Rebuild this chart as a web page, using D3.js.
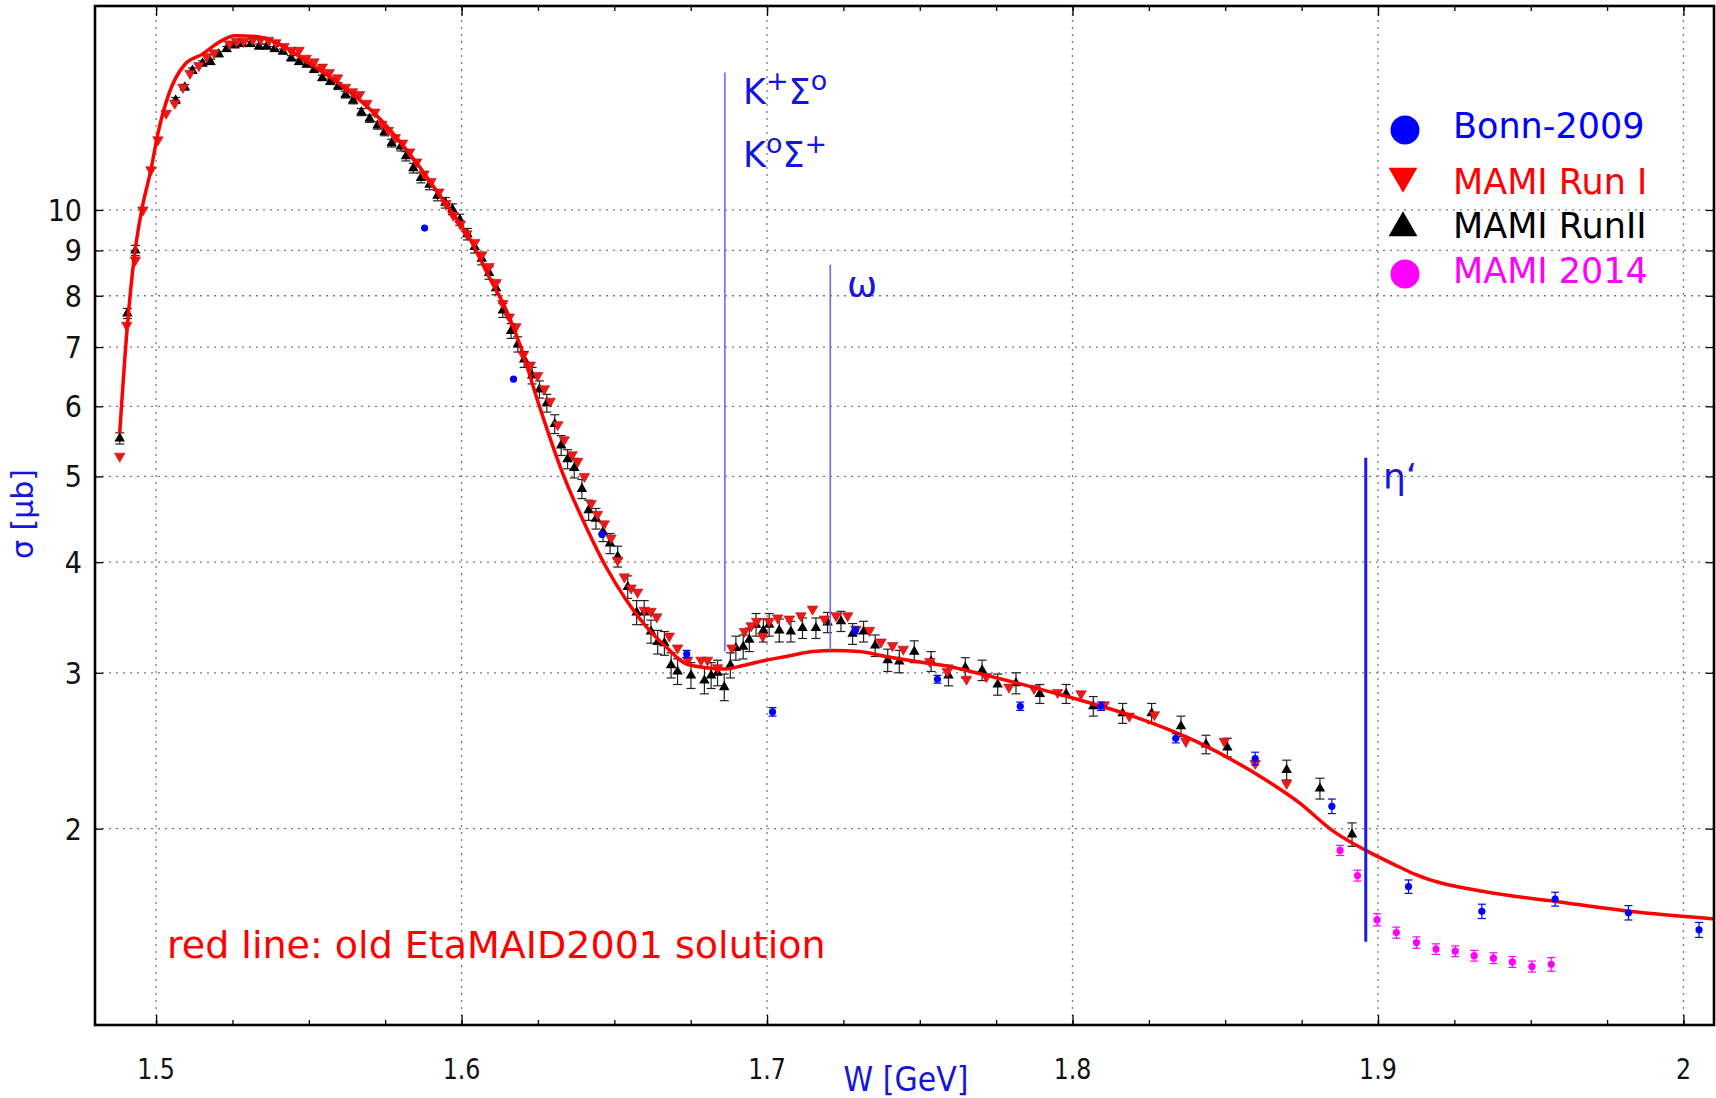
<!DOCTYPE html>
<html>
<head>
<meta charset="utf-8">
<script src="https://cdn.jsdelivr.net/npm/d3@7"></script>
<style>
  html, body { margin: 0; padding: 0; background: #fff; }
  svg { display: block; }
  text { font-family: "DejaVu Sans", sans-serif; }
</style>
</head>
<body>
<svg id="chart" width="1716" height="1098"></svg>
<script>
// eta photoproduction total cross section sigma(W)

// EtaMAID2001 solution (red line)
const curveW = [1.4881, 1.4904, 1.4930, 1.4953, 1.4983, 1.5006, 1.5041, 1.5094, 1.5152, 1.5210, 1.5257, 1.5327, 1.5386, 1.5503, 1.5620, 1.5736, 1.5853, 1.5947, 1.6029, 1.6090, 1.6146, 1.6195, 1.6255, 1.6331, 1.6407, 1.6473, 1.6538, 1.6615, 1.6669, 1.6735, 1.6800, 1.6866, 1.6909, 1.6997, 1.7062, 1.7149, 1.7215, 1.7302, 1.7389, 1.7488, 1.7597, 1.7651, 1.7869, 1.8000, 1.8197, 1.8415, 1.8524, 1.8633, 1.8742, 1.8851, 1.8960, 1.9070, 1.9124, 1.9342, 1.9582, 1.9822, 2.0103];
const curveSigma = [5.60, 7.26, 8.93, 10.0, 11.1, 12.2, 13.5, 14.6, 15.0, 15.5, 15.73, 15.7, 15.5, 14.64, 13.72, 12.64, 11.3, 10.17, 9.25, 8.40, 7.71, 6.98, 6.0, 5.04, 4.39, 3.95, 3.63, 3.35, 3.21, 3.07, 3.04, 3.03, 3.05, 3.10, 3.13, 3.17, 3.18, 3.17, 3.13, 3.09, 3.05, 3.02, 2.89, 2.81, 2.68, 2.50, 2.39, 2.27, 2.14, 1.99, 1.89, 1.81, 1.774, 1.699, 1.655, 1.613, 1.581];

// MAMI Run I (red down triangles)
const run1W = [1.4881, 1.4904, 1.4932, 1.4957, 1.4983, 1.5006, 1.5033, 1.5061, 1.5088, 1.5111, 1.5140, 1.5166, 1.5190, 1.5240, 1.5263, 1.5287, 1.5316, 1.5341, 1.5368, 1.5392, 1.5419, 1.5442, 1.5468, 1.5491, 1.5517, 1.5544, 1.5567, 1.5594, 1.5620, 1.5643, 1.5666, 1.5690, 1.5716, 1.5739, 1.5760, 1.5783, 1.5807, 1.5830, 1.5853, 1.5877, 1.5900, 1.5926, 1.5949, 1.5973, 1.5996, 1.6017, 1.6043, 1.6066, 1.6090, 1.6113, 1.6135, 1.6156, 1.6178, 1.6202, 1.6225, 1.6249, 1.6271, 1.6290, 1.6315, 1.6336, 1.6362, 1.6380, 1.6402, 1.6424, 1.6445, 1.6467, 1.6489, 1.6511, 1.6533, 1.6555, 1.6576, 1.6598, 1.6620, 1.6639, 1.6680, 1.6707, 1.6740, 1.6784, 1.6805, 1.6838, 1.6885, 1.6926, 1.6948, 1.6966, 1.6986, 1.7007, 1.7035, 1.7073, 1.7111, 1.7149, 1.7188, 1.7226, 1.7264, 1.7291, 1.7335, 1.7373, 1.7411, 1.7446, 1.7533, 1.7590, 1.7653, 1.7718, 1.7792, 1.7874, 1.7951, 1.8028, 1.8104, 1.8186, 1.8268, 1.8371, 1.8497, 1.8598, 1.8701];
const run1Sigma = [5.27, 7.41, 8.78, 10.0, 11.1, 12.0, 12.86, 13.2, 13.76, 14.27, 14.56, 14.9, 15.05, 15.4, 15.5, 15.5, 15.57, 15.57, 15.55, 15.45, 15.3, 15.15, 15.15, 14.84, 14.7, 14.5, 14.3, 14.1, 13.76, 13.6, 13.5, 13.2, 12.9, 12.5, 12.3, 12.07, 11.9, 11.63, 11.33, 10.98, 10.77, 10.48, 10.17, 9.86, 9.64, 9.40, 9.19, 8.90, 8.63, 8.28, 7.84, 7.57, 7.38, 6.86, 6.68, 6.50, 6.28, 6.08, 5.72, 5.50, 5.29, 5.20, 5.00, 4.66, 4.53, 4.42, 4.26, 4.02, 3.85, 3.74, 3.70, 3.53, 3.52, 3.47, 3.30, 3.20, 3.10, 3.10, 3.10, 3.04, 3.20, 3.34, 3.39, 3.43, 3.30, 3.43, 3.46, 3.45, 3.48, 3.54, 3.45, 3.48, 3.48, 3.36, 3.35, 3.25, 3.22, 3.19, 3.09, 3.01, 2.95, 2.97, 2.89, 2.88, 2.85, 2.84, 2.76, 2.68, 2.69, 2.51, 2.51, 2.37, 2.25];

// MAMI Run II (black up triangles) with statistical errors
const run2W = [1.4881, 1.4906, 1.4932, 1.5064, 1.5094, 1.5119, 1.5152, 1.5178, 1.5205, 1.5231, 1.5257, 1.5283, 1.5310, 1.5337, 1.5362, 1.5388, 1.5415, 1.5442, 1.5468, 1.5493, 1.5517, 1.5544, 1.5570, 1.5596, 1.5620, 1.5645, 1.5672, 1.5699, 1.5725, 1.5748, 1.5771, 1.5801, 1.5818, 1.5842, 1.5867, 1.5895, 1.5921, 1.5947, 1.5970, 1.5994, 1.6019, 1.6043, 1.6066, 1.6090, 1.6113, 1.6135, 1.6162, 1.6184, 1.6205, 1.6231, 1.6255, 1.6279, 1.6305, 1.6326, 1.6347, 1.6369, 1.6394, 1.6416, 1.6440, 1.6463, 1.6486, 1.6511, 1.6544, 1.6573, 1.6598, 1.6620, 1.6642, 1.6664, 1.6686, 1.6707, 1.6751, 1.6795, 1.6817, 1.6838, 1.6860, 1.6880, 1.6898, 1.6922, 1.6942, 1.6964, 1.6988, 1.7007, 1.7040, 1.7078, 1.7116, 1.7160, 1.7198, 1.7242, 1.7280, 1.7316, 1.7354, 1.7395, 1.7433, 1.7482, 1.7537, 1.7594, 1.7649, 1.7704, 1.7755, 1.7815, 1.7893, 1.7979, 1.8068, 1.8164, 1.8259, 1.8355, 1.8437, 1.8507, 1.8701, 1.8810, 1.8915];
const run2Sigma = [5.52, 7.64, 9.00, 13.3, 13.76, 14.37, 14.64, 14.7, 15.0, 15.2, 15.35, 15.4, 15.4, 15.3, 15.3, 15.2, 15.1, 14.84, 14.7, 14.6, 14.4, 14.1, 13.96, 13.8, 13.5, 13.3, 12.9, 12.68, 12.46, 12.25, 11.9, 11.8, 11.5, 11.15, 10.87, 10.68, 10.38, 10.19, 10.02, 9.75, 9.39, 9.08, 8.81, 8.49, 8.16, 7.70, 7.30, 7.05, 6.78, 6.50, 6.27, 6.05, 5.73, 5.42, 5.23, 5.11, 4.84, 4.58, 4.48, 4.33, 4.20, 4.06, 3.75, 3.51, 3.51, 3.34, 3.25, 3.24, 3.06, 3.01, 2.98, 2.94, 2.98, 3.00, 2.89, 3.06, 3.20, 3.21, 3.27, 3.40, 3.35, 3.40, 3.35, 3.34, 3.37, 3.37, 3.42, 3.43, 3.32, 3.34, 3.22, 3.10, 3.09, 3.17, 3.09, 2.98, 3.04, 3.02, 2.91, 2.92, 2.84, 2.84, 2.75, 2.70, 2.70, 2.61, 2.49, 2.47, 2.33, 2.22, 1.97];
const run2Err = [0.08, 0.10, 0.12, 0.10, 0.10, 0.10, 0.10, 0.10, 0.10, 0.10, 0.10, 0.10, 0.10, 0.10, 0.10, 0.10, 0.10, 0.10, 0.10, 0.10, 0.10, 0.10, 0.10, 0.12, 0.12, 0.12, 0.12, 0.12, 0.12, 0.12, 0.12, 0.14, 0.14, 0.14, 0.14, 0.14, 0.14, 0.14, 0.14, 0.14, 0.14, 0.14, 0.14, 0.14, 0.14, 0.14, 0.14, 0.14, 0.14, 0.14, 0.14, 0.14, 0.14, 0.14, 0.13, 0.13, 0.12, 0.12, 0.12, 0.11, 0.11, 0.11, 0.11, 0.11, 0.11, 0.10, 0.10, 0.10, 0.10, 0.10, 0.10, 0.10, 0.10, 0.10, 0.10, 0.10, 0.10, 0.10, 0.10, 0.10, 0.10, 0.10, 0.10, 0.09, 0.09, 0.09, 0.09, 0.09, 0.09, 0.09, 0.09, 0.09, 0.09, 0.09, 0.08, 0.08, 0.08, 0.08, 0.08, 0.08, 0.07, 0.07, 0.07, 0.07, 0.07, 0.07, 0.06, 0.06, 0.06, 0.06, 0.06];

// Bonn-2009 (blue circles)
const bonnW = [1.5879, 1.6170, 1.6460, 1.6737, 1.7018, 1.7289, 1.7558, 1.7829, 1.8093, 1.8338, 1.8598, 1.8849, 1.9100, 1.9340, 1.9580, 1.9820, 2.0051];
const bonnSigma = [9.54, 6.44, 4.30, 3.15, 2.71, 3.35, 2.95, 2.75, 2.75, 2.53, 2.40, 2.12, 1.72, 1.613, 1.665, 1.607, 1.537];
const bonnErr = [0, 0, 0, 0.03, 0.03, 0.03, 0.03, 0.03, 0.03, 0.03, 0.04, 0.04, 0.03, 0.03, 0.03, 0.03, 0.03];

// MAMI 2014 (magenta circles)
const mami14W = [1.8876, 1.8933, 1.8997, 1.9060, 1.9126, 1.9190, 1.9253, 1.9315, 1.9378, 1.9440, 1.9504, 1.9567];
const mami14Sigma = [1.89, 1.77, 1.578, 1.526, 1.487, 1.462, 1.454, 1.437, 1.428, 1.414, 1.397, 1.405];
const mami14Err = [0.025, 0.025, 0.025, 0.022, 0.022, 0.02, 0.02, 0.02, 0.02, 0.02, 0.02, 0.025];

// axis ticks
const xTicks = [1.5, 1.6, 1.7, 1.8, 1.9, 2.0];
const xTickLabels = ["1.5", "1.6", "1.7", "1.8", "1.9", "2"];
const xMinorTicks = [1.5, 1.525, 1.55, 1.575, 1.6, 1.625, 1.65, 1.675, 1.7, 1.725, 1.75, 1.775, 1.8, 1.825, 1.85, 1.875, 1.9, 1.925, 1.95, 1.975, 2.0];
const yTicks = [2, 3, 4, 5, 6, 7, 8, 9, 10];
const yTickLabels = ["2", "3", "4", "5", "6", "7", "8", "9", "10"];

// production thresholds: [W, sigma from, sigma to]
const thresholdKSigma = [1.6862, 3.17, 14.3];
const thresholdOmega = [1.7207, 3.18, 8.67];
const thresholdEtaPrime = [1.8960, 1.49, 5.25];

const svg = d3.select("#chart");
const L = 95, R = 1714, T = 6, B = 1025;

const x = d3.scaleLinear().domain([1.48, 2.01]).range([L, R]);
const y = d3.scaleLog().domain([1.2, 17]).range([B, T]);

const zip = (a, b, c) => a.map((v, i) => ({ w: v, s: b[i], e: c ? c[i] : 0 }));
const curve = zip(curveW, curveSigma);
const run1 = zip(run1W, run1Sigma);
const run2 = zip(run2W, run2Sigma, run2Err);
const bonn = zip(bonnW, bonnSigma, bonnErr);
const mami14 = zip(mami14W, mami14Sigma, mami14Err);

// grid
const grid = svg.append("g").attr("stroke", "#7a7a7a").attr("stroke-width", 1.3)
  .attr("stroke-dasharray", "2,5");
grid.selectAll(".gx").data(xTicks).join("line")
  .attr("x1", d => x(d)).attr("x2", d => x(d)).attr("y1", T).attr("y2", B);
grid.selectAll(".gy").data(yTicks).join("line")
  .attr("x1", L).attr("x2", R).attr("y1", d => y(d)).attr("y2", d => y(d));

// axes with inward ticks on all four sides
const axisStyle = g => {
  g.select(".domain").remove();
  g.selectAll(".tick line").attr("stroke", "#000").attr("stroke-width", 1.3);
  g.selectAll(".tick text").remove();
};
svg.append("g").attr("transform", `translate(0,${B})`)
  .call(d3.axisBottom(x).tickValues(xMinorTicks).tickSizeInner(-5).tickSizeOuter(0)).call(axisStyle);
svg.append("g").attr("transform", `translate(0,${B})`)
  .call(d3.axisBottom(x).tickValues(xTicks).tickSizeInner(-10).tickSizeOuter(0)).call(axisStyle);
svg.append("g").attr("transform", `translate(0,${T})`)
  .call(d3.axisTop(x).tickValues(xMinorTicks).tickSizeInner(-5).tickSizeOuter(0)).call(axisStyle);
svg.append("g").attr("transform", `translate(0,${T})`)
  .call(d3.axisTop(x).tickValues(xTicks).tickSizeInner(-10).tickSizeOuter(0)).call(axisStyle);
svg.append("g").attr("transform", `translate(${L},0)`)
  .call(d3.axisLeft(y).tickValues(yTicks).tickSizeInner(-8).tickSizeOuter(0)).call(axisStyle);
svg.append("g").attr("transform", `translate(${R},0)`)
  .call(d3.axisRight(y).tickValues(yTicks).tickSizeInner(-8).tickSizeOuter(0)).call(axisStyle);

// tick labels (glyphs slightly taller than wide)
svg.append("g").selectAll("text").data(xTicks).join("text")
  .attr("transform", d => `translate(${x(d)},1079) scale(0.95,1.15)`)
  .attr("text-anchor", "middle").attr("font-size", 25).attr("fill", "#111")
  .text((d, i) => xTickLabels[i]);
svg.append("g").selectAll("text").data(yTicks).join("text")
  .attr("transform", d => `translate(82,${y(d) + 11}) scale(1,1.1)`)
  .attr("text-anchor", "end").attr("font-size", 27).attr("fill", "#111")
  .text((d, i) => yTickLabels[i]);

// axis titles
svg.append("text").attr("transform", "translate(906,1091) scale(1,1.1)").attr("text-anchor", "middle")
  .attr("font-size", 30).attr("fill", "#1515dd").text("W [GeV]");
svg.append("text").attr("transform", "translate(33,514) rotate(-90)").attr("text-anchor", "middle")
  .attr("font-size", 30).attr("fill", "#1515dd").text("σ [μb]");

const plot = svg.append("g");

// error bars helper
function errorBars(g, data, color, cap) {
  const eb = g.append("g").attr("stroke", color).attr("stroke-width", 1.2);
  const d2 = data.filter(d => d.e > 0);
  eb.selectAll(".v").data(d2).join("line")
    .attr("x1", d => x(d.w)).attr("x2", d => x(d.w))
    .attr("y1", d => y(d.s - d.e)).attr("y2", d => y(d.s + d.e));
  eb.selectAll(".t").data(d2).join("line")
    .attr("x1", d => x(d.w) - cap).attr("x2", d => x(d.w) + cap)
    .attr("y1", d => y(d.s + d.e)).attr("y2", d => y(d.s + d.e));
  eb.selectAll(".b").data(d2).join("line")
    .attr("x1", d => x(d.w) - cap).attr("x2", d => x(d.w) + cap)
    .attr("y1", d => y(d.s - d.e)).attr("y2", d => y(d.s - d.e));
}

const tri = d3.symbol(d3.symbolTriangle, 48);

// MAMI Run II
errorBars(plot, run2, "#222", 4.5);
plot.append("g").selectAll("path").data(run2).join("path")
  .attr("d", tri).attr("transform", d => `translate(${x(d.w)},${y(d.s)})`)
  .attr("fill", "#000");

// MAMI Run I
plot.append("g").selectAll("path").data(run1).join("path")
  .attr("d", tri).attr("transform", d => `translate(${x(d.w)},${y(d.s)}) rotate(180)`)
  .attr("fill", "#f01818").attr("stroke", "#b01010").attr("stroke-width", 0.6);

// EtaMAID2001 curve
plot.append("path").datum(curve)
  .attr("fill", "none").attr("stroke", "#ff0000").attr("stroke-width", 3.5)
  .attr("stroke-linejoin", "round")
  .attr("d", d3.line().x(d => x(d.w)).y(d => y(d.s)).curve(d3.curveMonotoneX));

// Bonn-2009
errorBars(plot, bonn, "#0000ff", 4);
plot.append("g").selectAll("circle").data(bonn).join("circle")
  .attr("cx", d => x(d.w)).attr("cy", d => y(d.s)).attr("r", 3.6).attr("fill", "#0000ff");

// MAMI 2014
errorBars(plot, mami14, "#ff00ff", 4);
plot.append("g").selectAll("circle").data(mami14).join("circle")
  .attr("cx", d => x(d.w)).attr("cy", d => y(d.s)).attr("r", 3.6).attr("fill", "#ff00ff");

// thresholds
const thr = svg.append("g");
thr.append("line").attr("x1", x(thresholdKSigma[0])).attr("x2", x(thresholdKSigma[0]))
  .attr("y1", y(thresholdKSigma[1])).attr("y2", y(thresholdKSigma[2]))
  .attr("stroke", "#6b6bf0").attr("stroke-width", 1.6);
thr.append("line").attr("x1", x(thresholdOmega[0])).attr("x2", x(thresholdOmega[0]))
  .attr("y1", y(thresholdOmega[1])).attr("y2", y(thresholdOmega[2]))
  .attr("stroke", "#6b6bf0").attr("stroke-width", 1.6);
thr.append("line").attr("x1", x(thresholdEtaPrime[0])).attr("x2", x(thresholdEtaPrime[0]))
  .attr("y1", y(thresholdEtaPrime[1])).attr("y2", y(thresholdEtaPrime[2]))
  .attr("stroke", "#1a1ae6").attr("stroke-width", 3);

const ann = svg.append("g").attr("fill", "#1515dd");
const k1 = ann.append("text").attr("x", 743).attr("y", 104).attr("font-size", 35);
k1.append("tspan").text("K");
k1.append("tspan").attr("dy", -14).attr("font-size", 27).text("+");
k1.append("tspan").attr("dy", 14).text("Σ");
k1.append("tspan").attr("dy", -14).attr("font-size", 27).text("o");
const k2 = ann.append("text").attr("x", 743).attr("y", 167).attr("font-size", 35);
k2.append("tspan").text("K");
k2.append("tspan").attr("dy", -14).attr("font-size", 27).text("o");
k2.append("tspan").attr("dy", 14).text("Σ");
k2.append("tspan").attr("dy", -14).attr("font-size", 27).text("+");
ann.append("text").attr("x", 847).attr("y", 297).attr("font-size", 36).text("ω");
ann.append("text").attr("x", 1383).attr("y", 489).attr("font-size", 36).text("η‘");

// legend
const legendItems = [
  { label: "Bonn-2009", color: "#0000ff", shape: "circle", y: 130, ty: 138 },
  { label: "MAMI Run I", color: "#ff0000", shape: "down", y: 176, ty: 194 },
  { label: "MAMI RunII", color: "#000000", shape: "up", y: 228, ty: 238 },
  { label: "MAMI 2014", color: "#ff00ff", shape: "circle", y: 274, ty: 283 }
];
const lg = svg.append("g");
legendItems.forEach(it => {
  if (it.shape === "circle") {
    lg.append("circle").attr("cx", 1405).attr("cy", it.y).attr("r", 14.5).attr("fill", it.color);
  } else {
    lg.append("path").attr("d", d3.symbol(d3.symbolTriangle, 360)())
      .attr("transform", `translate(1403,${it.y}) ${it.shape === "down" ? "rotate(180)" : ""}`)
      .attr("fill", it.color);
  }
  lg.append("text").attr("x", 1453).attr("y", it.ty).attr("font-size", 35)
    .attr("fill", it.color).text(it.label);
});

// note
svg.append("text").attr("x", 167).attr("y", 958)
  .attr("font-family", "'Liberation Sans', Arial, sans-serif").attr("font-size", 38)
  .attr("fill", "#ff0000").text("red line: old EtaMAID2001 solution");

// frame
svg.append("rect").attr("x", L).attr("y", T).attr("width", R - L).attr("height", B - T)
  .attr("fill", "none").attr("stroke", "#000").attr("stroke-width", 2.6);
</script>
</body>
</html>
